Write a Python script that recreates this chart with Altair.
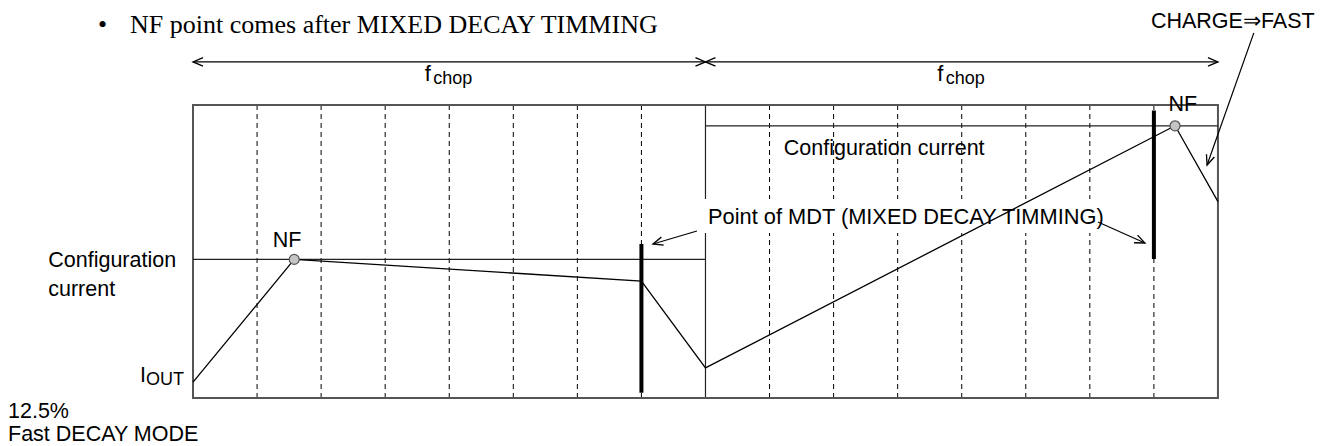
import altair as alt
import pandas as pd

# ---------------- data (time in chopping sub-periods, current in % of box height) ----
wave_t = [0.0, 1.58, 7.0, 8.0, 15.33, 16.0]
wave_i = [5.4, 47.3, 39.9, 10.3, 92.9, 67.0]

nf_t = [1.58, 15.33]
nf_i = [47.3, 92.9]

config_t0 = [0.0, 8.0]
config_t1 = [8.0, 16.0]
config_i = [47.3, 92.9]

grid_t = [1, 2, 3, 4, 5, 6, 7, 9, 10, 11, 12, 13, 14, 15]

mdt_t = [7.0, 15.0]
mdt_lo = [1.8, 47.4]
mdt_hi = [52.6, 98.1]

box_t = [0.0, 16.0]
box_i = [0.0, 100.0]
divider_t = [8.0]

fchop_t0 = [0.0, 8.0]
fchop_t1 = [8.0, 16.0]
fchop_level = 114.7

# annotation arrows: start -> tip
arrow_t0 = [7.867, 14.127, 16.56]
arrow_i0 = [57.0, 60.07, 124.6]
arrow_t1 = [7.18, 14.86, 15.83]
arrow_i1 = [52.56, 52.9, 79.5]
arrow_ang = [163.5, 24.0, 109.6]

# label background (white box behind MDT label)
label_bg_t = [7.914, 14.236]
label_bg_i = [56.3, 67.9]

# texts
txt_left = ["Configuration", "current", "I", "OUT", "12.5%", "Fast DECAY MODE",
            "Point of MDT (MIXED DECAY TIMMING)", "chop", "chop"]
txt_left_t = [-2.26, -2.26, -0.827, -0.734, -2.888, -2.888, 8.04, 3.75, 11.75]
txt_left_i = [44.8, 34.8, 5.46, 4.44, -6.9, -14.7, 59.4, 107.2, 107.2]
txt_left_fs = [21.5, 21.5, 21.5, 18, 21.5, 21.5, 21.8, 18, 18]

txt_center = ["NF", "NF", "Configuration current"]
txt_center_t = [1.468, 15.45, 10.79]
txt_center_i = [51.6, 98.1, 82.9]
txt_center_fs = [21.5, 21.5, 21.5]

txt_right = ["f", "f", "CHARGE⇒FAST"]
txt_right_t = [3.715, 11.715, 17.51]
txt_right_i = [108.3, 108.3, 126.2]
txt_right_fs = [22, 22, 21.5]

top_note = ["•", "NF point comes after MIXED DECAY TIMMING"]
top_note_t = [-1.483, -0.983]
top_note_i = [124.7, 124.7]

# ---------------- scales ----------------
XS = alt.Scale(domain=[-2.888, 17.749], nice=False, zero=False)
YS = alt.Scale(domain=[-16.38, 133.1], nice=False, zero=False)
FONT = "Liberation Sans"


def X(f="t"):
    return alt.X(f"{f}:Q", scale=XS, axis=None)


def Y(f="i"):
    return alt.Y(f"{f}:Q", scale=YS, axis=None)


grid = alt.Chart(pd.DataFrame({"t": grid_t, "lo": 0.0, "hi": 100.0})).mark_rule(
    color="black", strokeWidth=1, strokeDash=[5, 4]
).encode(x=X(), y=Y("lo"), y2="hi:Q")

divider = alt.Chart(pd.DataFrame({"t": divider_t, "lo": 0.0, "hi": 100.0})).mark_rule(
    color="#222", strokeWidth=1.2
).encode(x=X(), y=Y("lo"), y2="hi:Q")

label_bg = alt.Chart(pd.DataFrame({"t0": [label_bg_t[0]], "t1": [label_bg_t[1]],
                                   "i0": [label_bg_i[0]], "i1": [label_bg_i[1]]})).mark_rect(
    color="white"
).encode(x=X("t0"), x2="t1:Q", y=Y("i0"), y2="i1:Q")

box = alt.Chart(pd.DataFrame({"t0": [box_t[0]], "t1": [box_t[1]],
                              "i0": [box_i[0]], "i1": [box_i[1]]})).mark_rect(
    fill="transparent", stroke="#555", strokeWidth=2
).encode(x=X("t0"), x2="t1:Q", y=Y("i0"), y2="i1:Q")

config = alt.Chart(pd.DataFrame({"t0": config_t0, "t1": config_t1, "i": config_i})).mark_rule(
    color="#222", strokeWidth=1.2
).encode(x=X("t0"), x2="t1:Q", y=Y())

fchop = alt.Chart(pd.DataFrame({"t0": fchop_t0, "t1": fchop_t1, "i": fchop_level})).mark_rule(
    color="black", strokeWidth=1.2
).encode(x=X("t0"), x2="t1:Q", y=Y())

arrows = alt.Chart(pd.DataFrame({"t0": arrow_t0, "i0": arrow_i0,
                                 "t1": arrow_t1, "i1": arrow_i1})).mark_rule(
    color="black", strokeWidth=1.2
).encode(x=X("t0"), y=Y("i0"), x2="t1:Q", y2="i1:Q")

wave = alt.Chart(pd.DataFrame({"t": wave_t, "i": wave_i})).mark_line(
    color="black", strokeWidth=1.3
).encode(x=X(), y=Y())

bars = alt.Chart(pd.DataFrame({"t": mdt_t, "lo": mdt_lo, "hi": mdt_hi})).mark_rule(
    color="black", strokeWidth=4
).encode(x=X(), y=Y("lo"), y2="hi:Q")

nf = alt.Chart(pd.DataFrame({"t": nf_t, "i": nf_i})).mark_point(
    filled=True, fill="#c4c4c4", stroke="#555", strokeWidth=1.2, size=100, opacity=1
).encode(x=X(), y=Y())

CHEVRON = "M-1,-0.42L0,0L-1,0.42"
heads_df = pd.DataFrame({
    "t": [fchop_t0[0], fchop_t1[0], fchop_t0[1], fchop_t1[1]] + arrow_t1,
    "i": [fchop_level] * 4 + arrow_i1,
    "ang": [180, 0, 180, 0] + arrow_ang,
})
heads = alt.Chart(heads_df).mark_point(
    shape=CHEVRON, filled=False, color="black", strokeWidth=1.3, size=400, opacity=1
).encode(x=X(), y=Y(), angle=alt.Angle("ang:Q", scale=None))


def text_layer(labels, ts, is_, fss, align):
    df = pd.DataFrame({"label": labels, "t": ts, "i": is_, "fs": fss})
    return alt.Chart(df).mark_text(
        align=align, baseline="alphabetic", font=FONT, color="black"
    ).encode(x=X(), y=Y(), text="label:N", size=alt.Size("fs:Q", scale=None))


t_left = text_layer(txt_left, txt_left_t, txt_left_i, txt_left_fs, "left")
t_center = text_layer(txt_center, txt_center_t, txt_center_i, txt_center_fs, "center")
t_right = text_layer(txt_right, txt_right_t, txt_right_i, txt_right_fs, "right")

note = alt.Chart(pd.DataFrame({"label": top_note, "t": top_note_t, "i": top_note_i})).mark_text(
    align="left", baseline="alphabetic", font="Liberation Serif", fontSize=26, color="black"
).encode(x=X(), y=Y(), text="label:N")

chart = alt.layer(
    grid, divider, label_bg, box, config, fchop, arrows, wave, bars, nf, heads,
    t_left, t_center, t_right, note
).properties(
    width=1322, height=438, padding=0, autosize=alt.AutoSizeParams(type="none")
).configure_view(stroke=None)

chart.save("out.html", embed_options={"renderer": "svg", "actions": False})
